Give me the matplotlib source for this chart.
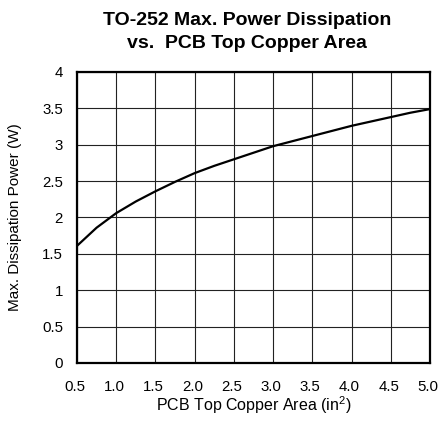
import matplotlib
matplotlib.use('Agg')
import matplotlib.pyplot as plt
import matplotlib.transforms as mtransforms

plt.rcParams['font.family'] = ['Liberation Sans', 'DejaVu Sans']
plt.rcParams['mathtext.fontset'] = 'custom'
plt.rcParams['mathtext.rm'] = 'Liberation Sans'
plt.rcParams['mathtext.it'] = 'Liberation Sans:italic'

# --- data ---
area = [0.5, 0.75, 1.0, 1.25, 1.5, 1.75, 2.0, 2.25, 2.5, 2.75,
        3.0, 3.25, 3.5, 3.75, 4.0, 4.25, 4.5, 4.75, 5.0]
power = [1.61, 1.86, 2.06, 2.22, 2.36, 2.49, 2.61, 2.71, 2.80, 2.89,
         2.98, 3.05, 3.12, 3.19, 3.26, 3.32, 3.38, 3.44, 3.49]

x_ticks = [0.5, 1.0, 1.5, 2.0, 2.5, 3.0, 3.5, 4.0, 4.5, 5.0]
x_labels = ['0.5', '1.0', '1.5', '2.0', '2.5', '3.0', '3.5', '4.0', '4.5', '5.0']
y_ticks = [0, 0.5, 1, 1.5, 2, 2.5, 3, 3.5, 4]
y_labels = ['0', '0.5', '1', '1.5', '2', '2.5', '3', '3.5', '4']

fig = plt.figure(figsize=(4.39, 4.21), dpi=100)
ax = fig.add_axes([0.1754, 0.1378, 0.8041, 0.6912])

ax.plot(area, power, color='black', linewidth=1.6, solid_capstyle='butt')

ax.set_xlim(0.5, 5.0)
ax.set_ylim(0, 4)
ax.set_xticks(x_ticks)
ax.set_xticklabels(x_labels)
ax.set_yticks(y_ticks)
ax.set_yticklabels(y_labels)
ax.tick_params(axis='x', length=0, pad=12, labelsize=10.8)
ax.tick_params(axis='y', length=0, pad=10, labelsize=10.8)
ax.grid(True, color='#222222', linewidth=0.8)
ax.set_axisbelow(True)
for s in ax.spines.values():
    s.set_linewidth(1.6)
    s.set_color('black')

# x labels sit a couple of pixels left of their gridlines in the original
shift = mtransforms.ScaledTranslation(-0.022, 0, fig.dpi_scale_trans)
for lbl in ax.get_xticklabels():
    lbl.set_transform(lbl.get_transform() + shift)

ax.set_xlabel('PCB Top Copper Area (in$^2$)', fontsize=11.5, va='center')
ax.xaxis.set_label_coords(0.5, -0.144)
ax.set_ylabel('Max. Dissipation Power (W)', fontsize=11, va='center')
ax.yaxis.set_label_coords(-0.176, 0.5)

fig.text(0.563, 0.952, 'TO-252 Max. Power Dissipation', ha='center', va='center',
         fontsize=14, fontweight='bold')
fig.text(0.563, 0.897, 'vs.  PCB Top Copper Area', ha='center', va='center',
         fontsize=14, fontweight='bold')

fig.savefig('out.png', dpi=100)
